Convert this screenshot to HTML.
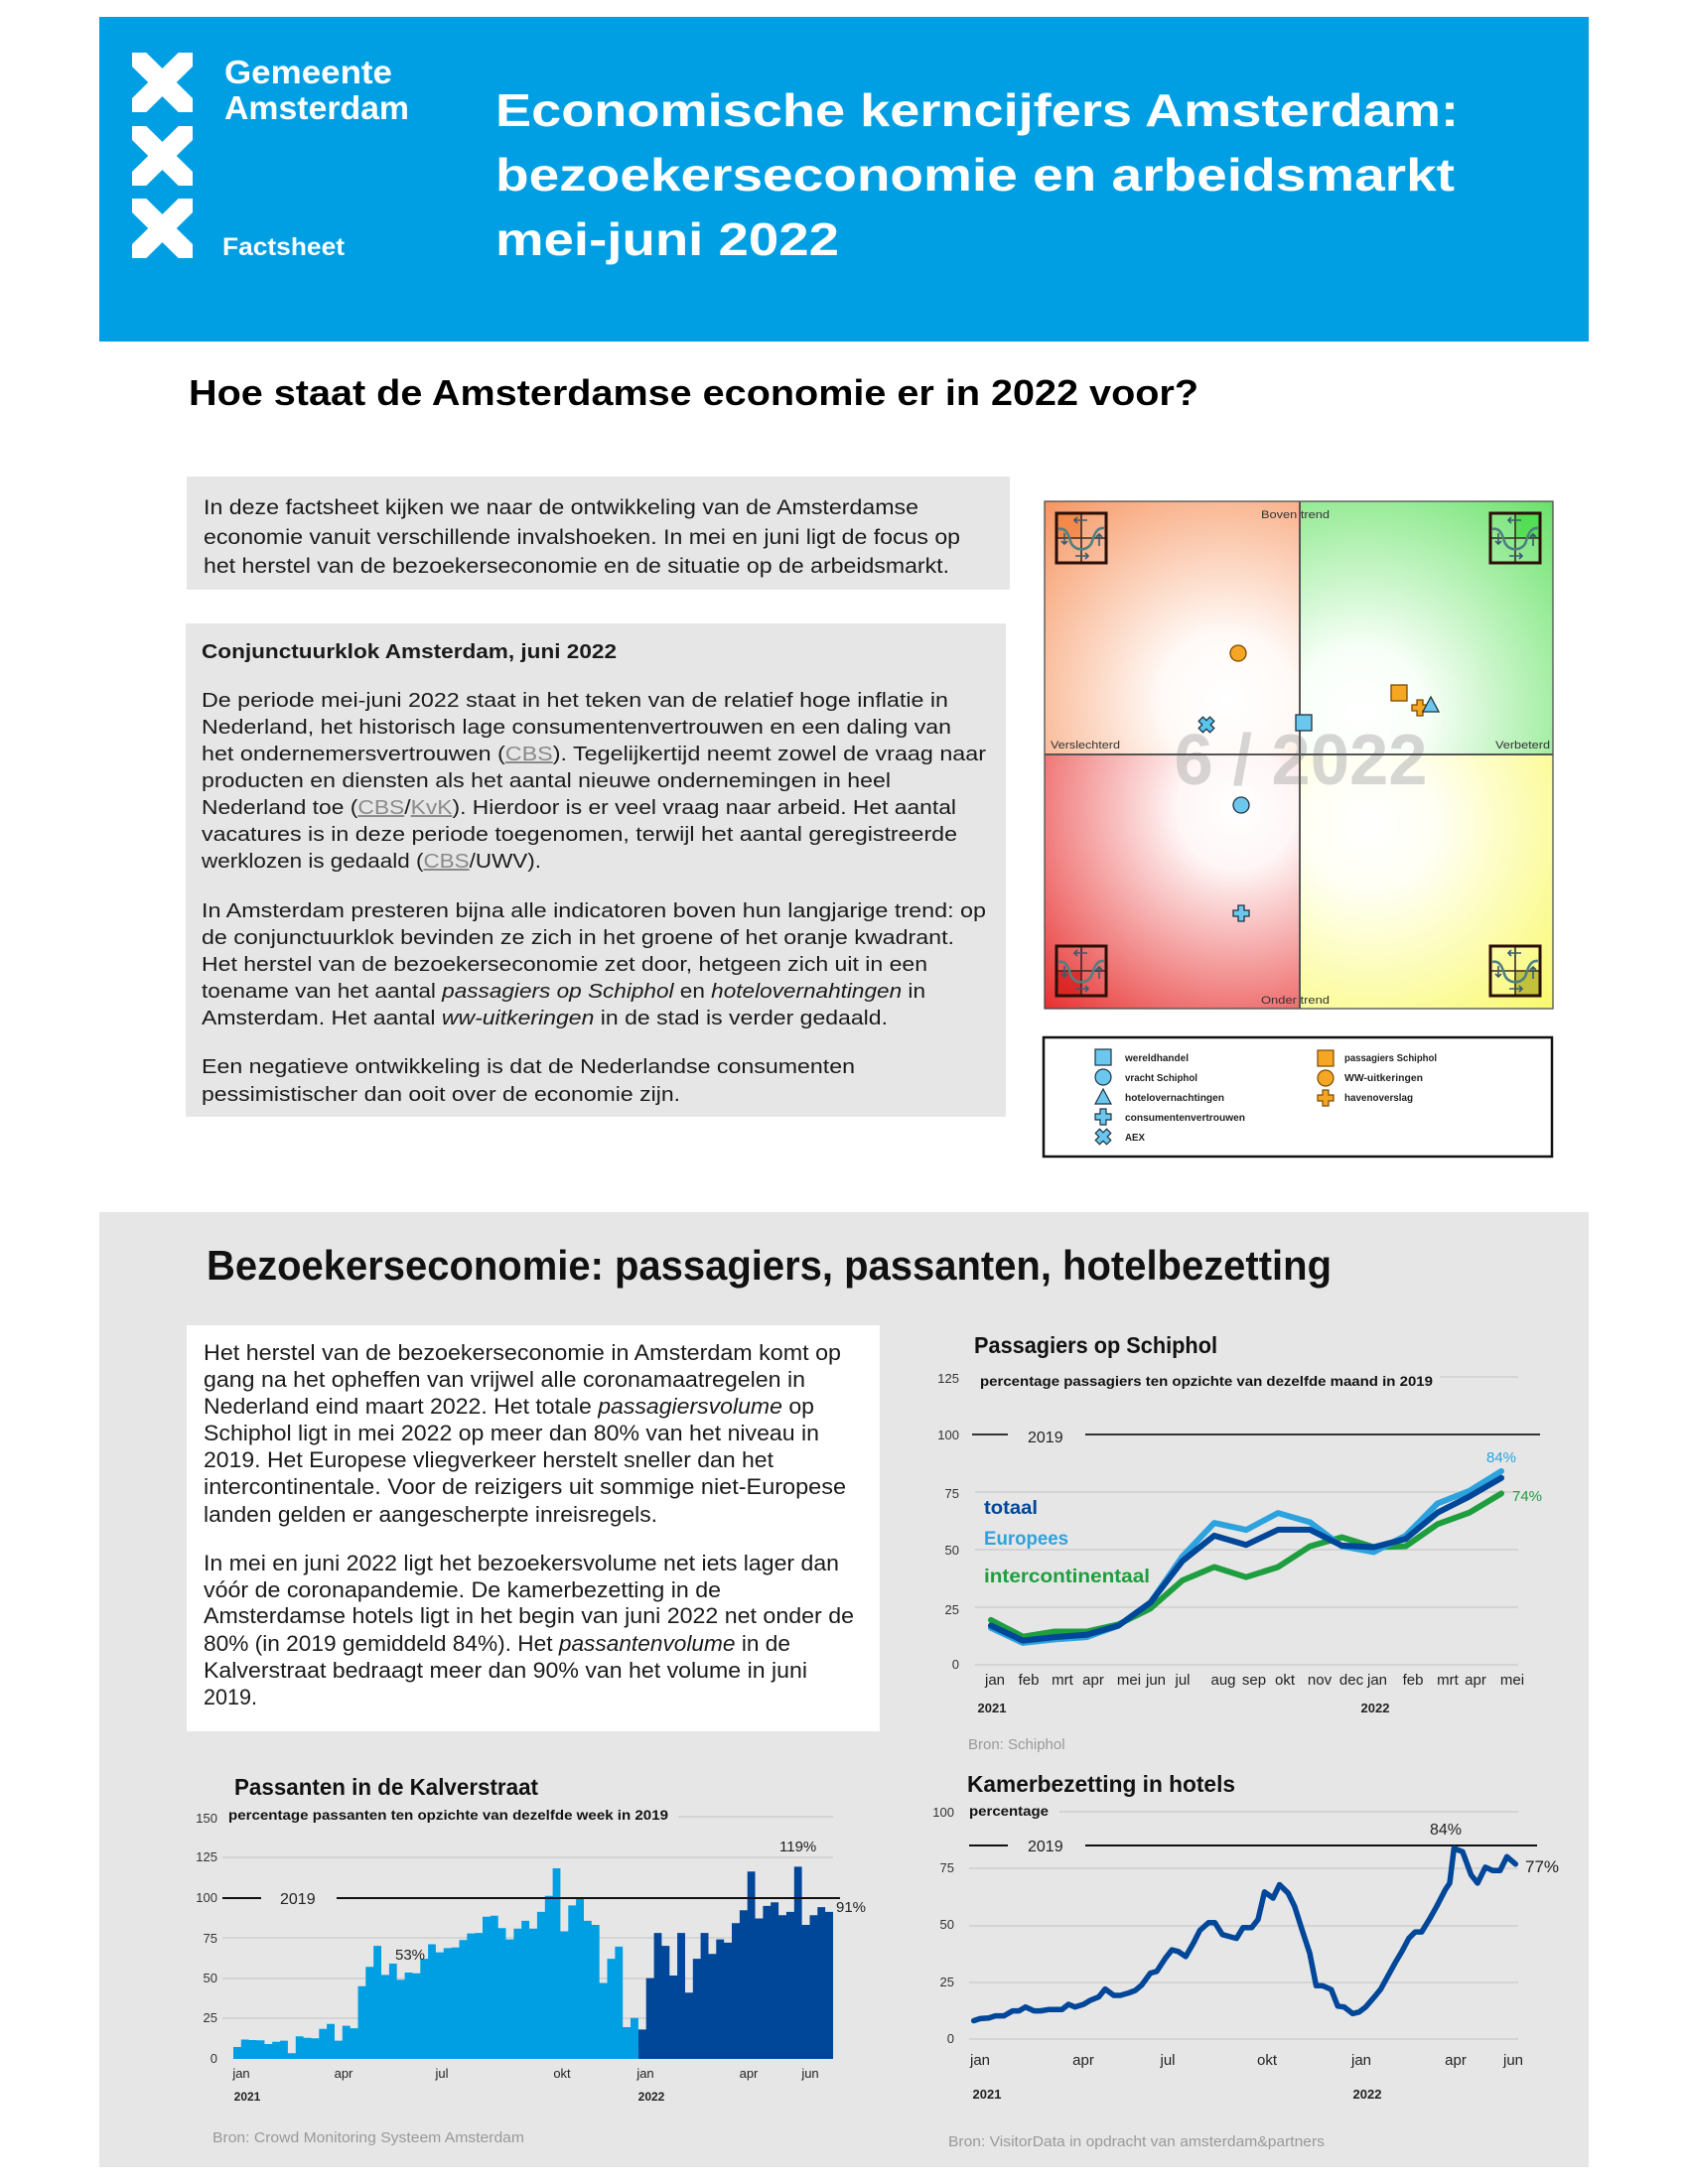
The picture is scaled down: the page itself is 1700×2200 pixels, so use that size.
<!DOCTYPE html>
<html lang="nl">
<head>
<meta charset="utf-8">
<title>Economische kerncijfers Amsterdam</title>
<style>
  html,body{margin:0;padding:0;background:#fff;}
  svg{display:block;}
  text{font-family:"Liberation Sans",Arial,sans-serif;}
</style>
</head>
<body>
<svg width="1700" height="2200" viewBox="0 0 1700 2200" xmlns="http://www.w3.org/2000/svg">
<defs>
  <clipPath id="cx1"><rect x="133" y="53" width="61" height="60"/></clipPath>
  <clipPath id="cx2"><rect x="133" y="127" width="61" height="60"/></clipPath>
  <clipPath id="cx3"><rect x="133" y="200" width="61" height="60"/></clipPath>
  <radialGradient id="gTL" gradientUnits="userSpaceOnUse" cx="1235" cy="705" r="300">
    <stop offset="0" stop-color="#ffffff"/><stop offset="0.22" stop-color="#fffaf7"/><stop offset="1" stop-color="#f5864a"/>
  </radialGradient>
  <radialGradient id="gTR" gradientUnits="userSpaceOnUse" cx="1370" cy="720" r="300">
    <stop offset="0" stop-color="#ffffff"/><stop offset="0.22" stop-color="#f8fff8"/><stop offset="1" stop-color="#62e062"/>
  </radialGradient>
  <radialGradient id="gBL" gradientUnits="userSpaceOnUse" cx="1245" cy="815" r="300">
    <stop offset="0" stop-color="#ffffff"/><stop offset="0.2" stop-color="#fff6f6"/><stop offset="1" stop-color="#e51c1c"/>
  </radialGradient>
  <radialGradient id="gBR" gradientUnits="userSpaceOnUse" cx="1380" cy="830" r="300">
    <stop offset="0" stop-color="#ffffff"/><stop offset="0.22" stop-color="#fffff4"/><stop offset="1" stop-color="#f8f850"/>
  </radialGradient>
  <g id="icon">
    <path d="M25,1 V49 M1,25 H49" stroke="#3a2a22" stroke-width="1.6"/>
    <path d="M2,16 C9,14 12,21 14,28 C17,39 33,39 36,28 C38,21 41,14 48,15" stroke="#4f8080" stroke-width="2.6" fill="none"/>
    <path d="M31,7 H18 M21,4 L18,7 L21,10" stroke="#3a5a70" stroke-width="1.6" fill="none"/>
    <path d="M19,43 H32 M29,40 L32,43 L29,46" stroke="#3a5a70" stroke-width="1.6" fill="none"/>
    <path d="M8,20 V31 M5,28 L8,31 L11,28" stroke="#3a5a70" stroke-width="1.6" fill="none"/>
    <path d="M43,33 V21 M40,24 L43,21 L46,24" stroke="#3a5a70" stroke-width="1.6" fill="none"/>
    <rect x="0" y="0" width="50" height="50" fill="none" stroke="#2b0e05" stroke-width="3"/>
  </g>
  <path id="plus" d="M-3,-8 H3 V-3 H8 V3 H3 V8 H-3 V3 H-8 V-3 H-3 Z"/>
</defs>

<!-- ============ HEADER ============ -->
<rect x="100" y="17" width="1500" height="327" fill="#009fe3"/>
<g stroke="#ffffff" stroke-width="20" stroke-linecap="butt">
  <g clip-path="url(#cx1)"><line x1="125" y1="45" x2="202" y2="121"/><line x1="202" y1="45" x2="125" y2="121"/></g>
  <g clip-path="url(#cx2)"><line x1="125" y1="119" x2="202" y2="195"/><line x1="202" y1="119" x2="125" y2="195"/></g>
  <g clip-path="url(#cx3)"><line x1="125" y1="192" x2="202" y2="268"/><line x1="202" y1="192" x2="125" y2="268"/></g>
</g>
<g fill="#ffffff" font-weight="bold">
  <text x="226" y="84" font-size="33" textLength="169" lengthAdjust="spacingAndGlyphs">Gemeente</text>
  <text x="226" y="120" font-size="33" textLength="186" lengthAdjust="spacingAndGlyphs">Amsterdam</text>
  <text x="224" y="257" font-size="25" textLength="123" lengthAdjust="spacingAndGlyphs">Factsheet</text>
  <text x="499" y="127" font-size="46" textLength="970" lengthAdjust="spacingAndGlyphs">Economische kerncijfers Amsterdam:</text>
  <text x="499" y="192" font-size="46" textLength="966" lengthAdjust="spacingAndGlyphs">bezoekerseconomie en arbeidsmarkt</text>
  <text x="499" y="257" font-size="46" textLength="346" lengthAdjust="spacingAndGlyphs">mei-juni 2022</text>
</g>

<!-- ============ SECTION 1 ============ -->
<text x="190" y="408" font-size="36" font-weight="bold" fill="#000" textLength="1017" lengthAdjust="spacingAndGlyphs">Hoe staat de Amsterdamse economie er in 2022 voor?</text>

<rect x="188" y="480" width="829" height="114" fill="#e6e6e6"/>
<g font-size="21" fill="#1a1a1a">
  <text x="205" y="518" textLength="720" lengthAdjust="spacingAndGlyphs">In deze factsheet kijken we naar de ontwikkeling van de Amsterdamse</text>
  <text x="205" y="548" textLength="762" lengthAdjust="spacingAndGlyphs">economie vanuit verschillende invalshoeken. In mei en juni ligt de focus op</text>
  <text x="205" y="577" textLength="751" lengthAdjust="spacingAndGlyphs">het herstel van de bezoekerseconomie en de situatie op de arbeidsmarkt.</text>
</g>

<rect x="187" y="628" width="826" height="497" fill="#e6e6e6"/>
<g font-size="20" fill="#1a1a1a">
  <text x="203" y="663" font-weight="bold" textLength="418" lengthAdjust="spacingAndGlyphs">Conjunctuurklok Amsterdam, juni 2022</text>
  <text x="203" y="712" textLength="752" lengthAdjust="spacingAndGlyphs">De periode mei-juni 2022 staat in het teken van de relatief hoge inflatie in</text>
  <text x="203" y="739" textLength="755" lengthAdjust="spacingAndGlyphs">Nederland, het historisch lage consumentenvertrouwen en een daling van</text>
  <text x="203" y="766" textLength="790" lengthAdjust="spacingAndGlyphs">het ondernemersvertrouwen (<tspan fill="#8a8a8a" text-decoration="underline">CBS</tspan>). Tegelijkertijd neemt zowel de vraag naar</text>
  <text x="203" y="793" textLength="694" lengthAdjust="spacingAndGlyphs">producten en diensten als het aantal nieuwe ondernemingen in heel</text>
  <text x="203" y="820" textLength="760" lengthAdjust="spacingAndGlyphs">Nederland toe (<tspan fill="#8a8a8a" text-decoration="underline">CBS</tspan>/<tspan fill="#8a8a8a" text-decoration="underline">KvK</tspan>). Hierdoor is er veel vraag naar arbeid. Het aantal</text>
  <text x="203" y="847" textLength="761" lengthAdjust="spacingAndGlyphs">vacatures is in deze periode toegenomen, terwijl het aantal geregistreerde</text>
  <text x="203" y="874" textLength="342" lengthAdjust="spacingAndGlyphs">werklozen is gedaald (<tspan fill="#8a8a8a" text-decoration="underline">CBS</tspan>/UWV).</text>
  <text x="203" y="924" textLength="790" lengthAdjust="spacingAndGlyphs">In Amsterdam presteren bijna alle indicatoren boven hun langjarige trend: op</text>
  <text x="203" y="951" textLength="758" lengthAdjust="spacingAndGlyphs">de conjunctuurklok bevinden ze zich in het groene of het oranje kwadrant.</text>
  <text x="203" y="978" textLength="731" lengthAdjust="spacingAndGlyphs">Het herstel van de bezoekerseconomie zet door, hetgeen zich uit in een</text>
  <text x="203" y="1005" textLength="729" lengthAdjust="spacingAndGlyphs">toename van het aantal <tspan font-style="italic">passagiers op Schiphol</tspan> en <tspan font-style="italic">hotelovernahtingen</tspan> in</text>
  <text x="203" y="1032" textLength="691" lengthAdjust="spacingAndGlyphs">Amsterdam. Het aantal <tspan font-style="italic">ww-uitkeringen</tspan> in de stad is verder gedaald.</text>
  <text x="203" y="1081" textLength="658" lengthAdjust="spacingAndGlyphs">Een negatieve ontwikkeling is dat de Nederlandse consumenten</text>
  <text x="203" y="1109" textLength="482" lengthAdjust="spacingAndGlyphs">pessimistischer dan ooit over de economie zijn.</text>
</g>

<!-- ============ CONJUNCTUURKLOK ============ -->
<rect x="1052" y="505" width="257" height="255" fill="url(#gTL)"/>
<rect x="1309" y="505" width="255" height="255" fill="url(#gTR)"/>
<rect x="1052" y="760" width="257" height="256" fill="url(#gBL)"/>
<rect x="1309" y="760" width="255" height="256" fill="url(#gBR)"/>
<rect x="1052" y="505" width="512" height="511" fill="none" stroke="#444" stroke-width="1.2"/>
<text x="1310" y="790" font-size="72" font-weight="bold" fill="#b4b4b4" fill-opacity="0.55" text-anchor="middle" textLength="255" lengthAdjust="spacingAndGlyphs">6 / 2022</text>
<path d="M1309,505 V1016 M1052,760 H1564" stroke="#555" stroke-width="2"/>
<g font-size="11" fill="#333">
  <text x="1270" y="522" textLength="69" lengthAdjust="spacingAndGlyphs">Boven trend</text>
  <text x="1270" y="1011" textLength="69" lengthAdjust="spacingAndGlyphs">Onder trend</text>
  <text x="1058" y="754" textLength="70" lengthAdjust="spacingAndGlyphs">Verslechterd</text>
  <text x="1506" y="754" textLength="55" lengthAdjust="spacingAndGlyphs">Verbeterd</text>
</g>
<!-- corner icons -->
<g transform="translate(1064,517)"><rect x="0" y="0" width="25" height="25" fill="#f0782e" fill-opacity="0.6"/><use href="#icon"/></g>
<g transform="translate(1501,517)"><rect x="25" y="0" width="25" height="25" fill="#38d838" fill-opacity="0.6"/><use href="#icon"/></g>
<g transform="translate(1064,953)"><rect x="0" y="25" width="25" height="25" fill="#d41010" fill-opacity="0.6"/><use href="#icon"/></g>
<g transform="translate(1501,953)"><rect x="25" y="25" width="25" height="25" fill="#a8a820" fill-opacity="0.7"/><use href="#icon"/></g>
<!-- markers -->
<g stroke="#1e3340" stroke-width="1.3">
  <use href="#plus" transform="translate(1215,730) rotate(45)" fill="#5bc5ee"/>
  <circle cx="1247" cy="658" r="8" fill="#f5a623" stroke="#7a4a00"/>
  <rect x="1305" y="720" width="16" height="16" fill="#6cc7ef"/>
  <rect x="1401" y="690" width="16" height="16" fill="#f5a623" stroke="#7a4a00"/>
  <use href="#plus" transform="translate(1430,713)" fill="#f5a623" stroke="#7a4a00"/>
  <path d="M1441,702 L1449,717 L1433,717 Z" fill="#6cc7ef"/>
  <circle cx="1250" cy="811" r="8" fill="#6cc7ef"/>
  <use href="#plus" transform="translate(1250,920)" fill="#6cc7ef"/>
</g>
<!-- legend -->
<rect x="1051" y="1045" width="512" height="120" fill="#fff" stroke="#111" stroke-width="2.5"/>
<g stroke="#1e3340" stroke-width="1.2">
  <rect x="1103" y="1057" width="16" height="16" fill="#6cc7ef"/>
  <circle cx="1111" cy="1085" r="8" fill="#6cc7ef"/>
  <path d="M1111,1097 L1119,1112 L1103,1112 Z" fill="#6cc7ef"/>
  <use href="#plus" transform="translate(1111,1125)" fill="#6cc7ef"/>
  <use href="#plus" transform="translate(1111,1145) rotate(45)" fill="#6cc7ef"/>
  <rect x="1327" y="1058" width="16" height="16" fill="#f5a623" stroke="#7a4a00"/>
  <circle cx="1335" cy="1086" r="8" fill="#f5a623" stroke="#7a4a00"/>
  <use href="#plus" transform="translate(1335,1106)" fill="#f5a623" stroke="#7a4a00"/>
</g>
<g font-size="10" font-weight="bold" fill="#222">
  <text x="1133" y="1069" textLength="64" lengthAdjust="spacingAndGlyphs">wereldhandel</text>
  <text x="1133" y="1089" textLength="73" lengthAdjust="spacingAndGlyphs">vracht Schiphol</text>
  <text x="1133" y="1109" textLength="100" lengthAdjust="spacingAndGlyphs">hotelovernachtingen</text>
  <text x="1133" y="1129" textLength="121" lengthAdjust="spacingAndGlyphs">consumentenvertrouwen</text>
  <text x="1133" y="1149" textLength="20" lengthAdjust="spacingAndGlyphs">AEX</text>
  <text x="1354" y="1069" textLength="93" lengthAdjust="spacingAndGlyphs">passagiers Schiphol</text>
  <text x="1354" y="1089" textLength="79" lengthAdjust="spacingAndGlyphs">WW-uitkeringen</text>
  <text x="1354" y="1109" textLength="69" lengthAdjust="spacingAndGlyphs">havenoverslag</text>
</g>

<!-- ============ SECTION 2 (grey) ============ -->
<rect x="100" y="1221" width="1500" height="962" fill="#e6e6e6"/>
<text x="208" y="1289" font-size="42" font-weight="bold" fill="#111" textLength="1133" lengthAdjust="spacingAndGlyphs">Bezoekerseconomie: passagiers, passanten, hotelbezetting</text>

<rect x="188" y="1335" width="698" height="409" fill="#ffffff"/>
<g font-size="22" fill="#1a1a1a">
  <text x="205" y="1370" textLength="642" lengthAdjust="spacingAndGlyphs">Het herstel van de bezoekerseconomie in Amsterdam komt op</text>
  <text x="205" y="1397" textLength="606" lengthAdjust="spacingAndGlyphs">gang na het opheffen van vrijwel alle coronamaatregelen in</text>
  <text x="205" y="1424" textLength="615" lengthAdjust="spacingAndGlyphs">Nederland eind maart 2022.  Het totale <tspan font-style="italic">passagiersvolume</tspan> op</text>
  <text x="205" y="1451" textLength="620" lengthAdjust="spacingAndGlyphs">Schiphol ligt in mei 2022 op meer dan 80%  van het niveau in</text>
  <text x="205" y="1478" textLength="574" lengthAdjust="spacingAndGlyphs">2019. Het Europese vliegverkeer herstelt sneller dan het</text>
  <text x="205" y="1505" textLength="647" lengthAdjust="spacingAndGlyphs">intercontinentale. Voor de reizigers uit sommige niet-Europese</text>
  <text x="205" y="1533" textLength="457" lengthAdjust="spacingAndGlyphs">landen gelden er aangescherpte inreisregels.</text>
  <text x="205" y="1582" textLength="640" lengthAdjust="spacingAndGlyphs">In mei en juni 2022 ligt het bezoekersvolume net iets lager dan</text>
  <text x="205" y="1609" textLength="521" lengthAdjust="spacingAndGlyphs">vóór de coronapandemie. De kamerbezetting in de</text>
  <text x="205" y="1635" textLength="655" lengthAdjust="spacingAndGlyphs">Amsterdamse hotels ligt in het begin van juni 2022 net onder de</text>
  <text x="205" y="1663" textLength="591" lengthAdjust="spacingAndGlyphs">80% (in 2019 gemiddeld 84%). Het <tspan font-style="italic">passantenvolume</tspan> in de</text>
  <text x="205" y="1690" textLength="608" lengthAdjust="spacingAndGlyphs">Kalverstraat bedraagt meer dan 90% van het volume in juni</text>
  <text x="205" y="1717" textLength="54" lengthAdjust="spacingAndGlyphs">2019.</text>
</g>

<!-- ============ CHART: Passagiers op Schiphol ============ -->
<text x="981" y="1363" font-size="23" font-weight="bold" fill="#111" textLength="245" lengthAdjust="spacingAndGlyphs">Passagiers op Schiphol</text>
<text x="987" y="1396" font-size="14" font-weight="bold" fill="#111" textLength="456" lengthAdjust="spacingAndGlyphs">percentage passagiers ten opzichte van dezelfde maand in 2019</text>
<g stroke="#d4d4d4" stroke-width="2">
  <line x1="1450" y1="1387" x2="1529" y2="1387"/>
  <line x1="982" y1="1503" x2="1529" y2="1503"/>
  <line x1="982" y1="1561" x2="1529" y2="1561"/>
  <line x1="982" y1="1619" x2="1529" y2="1619"/>
  <line x1="982" y1="1677" x2="1529" y2="1677"/>
</g>
<path d="M979,1445 H1015 M1093,1445 H1551" stroke="#333" stroke-width="2"/>
<text x="1035" y="1453" font-size="16" fill="#222">2019</text>
<g font-size="13" fill="#333" text-anchor="end">
  <text x="966" y="1393">125</text><text x="966" y="1450">100</text><text x="966" y="1509">75</text>
  <text x="966" y="1566">50</text><text x="966" y="1626">25</text><text x="966" y="1681">0</text>
</g>
<g fill="none" stroke-width="6" stroke-linejoin="round" stroke-linecap="round">
  <polyline stroke="#1e9e3e" points="998,1631.9 1030.1,1648.7 1062.3,1643.5 1094.4,1643.5 1126.5,1636.3 1158.6,1620.3 1190.8,1592 1222.9,1578.5 1255,1588.7 1287.1,1578.5 1319.3,1557.6 1351.4,1548.5 1383.5,1558.5 1415.6,1557.6 1447.8,1535.3 1479.9,1523.7 1512,1504.4"/>
  <polyline stroke="#2ca3de" points="998,1639.8 1030.1,1654.9 1062.3,1651.4 1094.4,1649.1 1126.5,1637.5 1158.6,1614.3 1190.8,1567.8 1222.9,1534.1 1255,1541.1 1287.1,1524.1 1319.3,1533.4 1351.4,1557.6 1383.5,1563.4 1415.6,1546.9 1447.8,1514.4 1479.9,1501.8 1512,1481.9"/>
  <polyline stroke="#004699" points="998,1637.5 1030.1,1652.6 1062.3,1649.1 1094.4,1646.8 1126.5,1637.5 1158.6,1614.3 1190.8,1572.5 1222.9,1546.9 1255,1556.2 1287.1,1540.9 1319.3,1540.9 1351.4,1556.9 1383.5,1558.5 1415.6,1550.2 1447.8,1523.7 1479.9,1507.4 1512,1488.8"/>
</g>
<g font-size="19" font-weight="bold">
  <text x="991" y="1525" fill="#004699" textLength="54" lengthAdjust="spacingAndGlyphs">totaal</text>
  <text x="991" y="1556" fill="#2ca3de" textLength="85" lengthAdjust="spacingAndGlyphs">Europees</text>
  <text x="991" y="1594" fill="#1e9e3e" textLength="167" lengthAdjust="spacingAndGlyphs">intercontinentaal</text>
</g>
<text x="1497" y="1473" font-size="15" fill="#2ca3de">84%</text>
<text x="1523" y="1512" font-size="15" fill="#1e9e3e">74%</text>
<g font-size="15" fill="#222" text-anchor="middle">
  <text x="1002" y="1697">jan</text><text x="1036" y="1697">feb</text><text x="1070" y="1697">mrt</text>
  <text x="1101" y="1697">apr</text><text x="1137" y="1697">mei</text><text x="1164" y="1697">jun</text>
  <text x="1191" y="1697">jul</text><text x="1232" y="1697">aug</text><text x="1263" y="1697">sep</text>
  <text x="1294" y="1697">okt</text><text x="1329" y="1697">nov</text><text x="1361" y="1697">dec</text>
  <text x="1387" y="1697">jan</text><text x="1423" y="1697">feb</text><text x="1458" y="1697">mrt</text>
  <text x="1486" y="1697">apr</text><text x="1523" y="1697">mei</text>
</g>
<g font-size="13" font-weight="bold" fill="#222" text-anchor="middle">
  <text x="999" y="1725">2021</text><text x="1385" y="1725">2022</text>
</g>
<text x="975" y="1762" font-size="15" fill="#999">Bron: Schiphol</text>

<!-- ============ CHART: Passanten in de Kalverstraat ============ -->
<text x="236" y="1808" font-size="23" font-weight="bold" fill="#111" textLength="306" lengthAdjust="spacingAndGlyphs">Passanten in de Kalverstraat</text>
<text x="230" y="1833" font-size="14" font-weight="bold" fill="#111" textLength="443" lengthAdjust="spacingAndGlyphs">percentage passanten ten opzichte van dezelfde week in 2019</text>
<g stroke="#d4d4d4" stroke-width="2">
  <line x1="683" y1="1830" x2="839" y2="1830"/>
  <line x1="224" y1="1871" x2="839" y2="1871"/>
  <line x1="224" y1="1952" x2="839" y2="1952"/>
  <line x1="224" y1="1993" x2="839" y2="1993"/>
  <line x1="224" y1="2033" x2="839" y2="2033"/>
</g>
<g font-size="13" fill="#333" text-anchor="end">
  <text x="219" y="1836">150</text><text x="219" y="1875">125</text><text x="219" y="1916">100</text>
  <text x="219" y="1957">75</text><text x="219" y="1997">50</text><text x="219" y="2037">25</text><text x="219" y="2078">0</text>
</g>
<path fill="#009fe3" d="M235,2074 V2062.0 H242.8 V2054.5 H250.7 V2055.0 H258.5 V2055.3 H266.4 V2059.0 H274.2 V2056.8 H282.1 V2055.6 H289.9 V2068.3 H297.8 V2051.2 H305.6 V2052.8 H313.4 V2053.3 H321.3 V2043.7 H329.1 V2038.7 H337.0 V2055.6 H344.8 V2040.6 H352.7 V2043.1 H360.5 V2000.8 H368.3 V1981.3 H376.2 V1960.1 H384.0 V1989.4 H391.9 V1978.0 H399.7 V1994.3 H407.6 V1987.0 H415.4 V1987.8 H423.3 V1973.1 H431.1 V1958.5 H438.9 V1966.6 H446.8 V1962.4 H454.6 V1961.7 H462.5 V1954.3 H470.3 V1947.6 H478.2 V1947.1 H486.0 V1930.8 H493.9 V1929.7 H501.7 V1942.2 H509.5 V1953.6 H517.4 V1942.7 H525.2 V1934.9 H533.1 V1942.7 H540.9 V1925.9 H548.8 V1909.7 H556.6 V1882.0 H564.4 V1945.5 H572.3 V1919.4 H580.1 V1912.9 H588.0 V1934.9 H595.8 V1939.0 H603.7 V1997.5 H611.5 V1973.1 H619.4 V1960.9 H627.2 V2042.0 H635.0 V2032.7 H642.9 V2074 Z"/>
<path fill="#004699" d="M642.9,2074 V2044.4 H650.7 V1992.6 H658.6 V1947.1 H666.4 V1960.1 H674.3 V1990.0 H682.1 V1947.1 H690.0 V2007.3 H697.8 V1973.1 H705.6 V1947.1 H713.5 V1968.2 H721.3 V1953.6 H729.2 V1956.9 H737.0 V1937.3 H744.9 V1924.3 H752.7 V1885.3 H760.5 V1932.5 H768.4 V1919.9 H776.2 V1916.2 H784.1 V1929.2 H791.9 V1925.9 H799.8 V1880.4 H807.6 V1939.0 H815.5 V1929.2 H823.3 V1921.1 H831.1 V1925.9 H839.0 V2074 Z"/>
<path d="M224,1912 H263 M339,1912 H846" stroke="#111" stroke-width="2"/>
<text x="282" y="1918" font-size="16" fill="#222">2019</text>
<text x="398" y="1974" font-size="15" fill="#222">53%</text>
<text x="785" y="1865" font-size="15" fill="#222">119%</text>
<text x="842" y="1926" font-size="15" fill="#222">91%</text>
<g font-size="13" fill="#222" text-anchor="middle">
  <text x="243" y="2093">jan</text><text x="346" y="2093">apr</text><text x="445" y="2093">jul</text>
  <text x="566" y="2093">okt</text><text x="650" y="2093">jan</text><text x="754" y="2093">apr</text><text x="816" y="2093">jun</text>
</g>
<g font-size="12" font-weight="bold" fill="#222" text-anchor="middle">
  <text x="249" y="2116">2021</text><text x="656" y="2116">2022</text>
</g>
<text x="214" y="2158" font-size="15" fill="#999" textLength="314" lengthAdjust="spacingAndGlyphs">Bron: Crowd Monitoring Systeem Amsterdam</text>

<!-- ============ CHART: Kamerbezetting in hotels ============ -->
<text x="974" y="1805" font-size="23" font-weight="bold" fill="#111" textLength="270" lengthAdjust="spacingAndGlyphs">Kamerbezetting in hotels</text>
<text x="976" y="1829" font-size="14" font-weight="bold" fill="#111" textLength="80" lengthAdjust="spacingAndGlyphs">percentage</text>
<g stroke="#d4d4d4" stroke-width="2">
  <line x1="1067" y1="1825" x2="1529" y2="1825"/>
  <line x1="976" y1="1882" x2="1529" y2="1882"/>
  <line x1="976" y1="1940" x2="1529" y2="1940"/>
  <line x1="976" y1="1997" x2="1529" y2="1997"/>
  <line x1="976" y1="2054" x2="1529" y2="2054"/>
</g>
<path d="M976,1859 H1015 M1093,1859 H1548" stroke="#111" stroke-width="2"/>
<text x="1035" y="1865" font-size="16" fill="#222">2019</text>
<g font-size="13" fill="#333" text-anchor="end">
  <text x="961" y="1830">100</text><text x="961" y="1886">75</text><text x="961" y="1943">50</text>
  <text x="961" y="2001">25</text><text x="961" y="2058">0</text>
</g>
<polyline fill="none" stroke="#004699" stroke-width="5.5" stroke-linejoin="round" stroke-linecap="round" points="980.7,2035.5 987.2,2033.4 995.9,2032.7 1002.4,2030.6 1011.1,2030.6 1019.8,2025.6 1026.3,2025.6 1032.8,2021.7 1041.4,2025.6 1047.9,2025.6 1056.6,2024.2 1069.6,2024.2 1076.1,2019 1082.6,2021.7 1091.3,2019 1097.8,2015.1 1106.5,2011.6 1113,2003.6 1121.7,2010 1128.2,2010 1136.9,2007.5 1143.4,2005 1149.9,1999.5 1158.5,1987.6 1165,1985.8 1173.7,1972.5 1180.2,1964.2 1186.7,1965.8 1194.1,1970.9 1201.9,1957.4 1208.4,1944.5 1217.1,1936.8 1223.6,1936.8 1231,1948.7 1238.8,1950.9 1245.3,1952.6 1251.8,1941.8 1260.5,1941.8 1267,1933.5 1273.5,1905.8 1282.1,1912 1288.6,1898.5 1297.3,1907 1303.8,1920.3 1312.5,1947.7 1319,1967.4 1325.5,2000.2 1332,2000.2 1340.7,2004.1 1347.2,2020.8 1353.7,2021.7 1362.4,2028.4 1368.9,2026.7 1375.4,2021.7 1384.1,2011.6 1390.6,2003.6 1397.1,1991.7 1405.7,1976.1 1412.2,1965.1 1418.8,1952.6 1425.3,1946.1 1431.8,1946.1 1440.4,1931.9 1446.9,1920.3 1455.6,1903.5 1460,1896.9 1464.3,1861.9 1473,1865.3 1481.6,1888.7 1488.1,1896.9 1495.9,1880.9 1503.3,1884.3 1510.7,1884.3 1517.6,1870.3 1526.3,1877.7"/>
<text x="1440" y="1848" font-size="16" fill="#222">84%</text>
<text x="1536" y="1886" font-size="17" fill="#222">77%</text>
<g font-size="15" fill="#222" text-anchor="middle">
  <text x="987" y="2080">jan</text><text x="1091" y="2080">apr</text><text x="1176" y="2080">jul</text>
  <text x="1276" y="2080">okt</text><text x="1371" y="2080">jan</text><text x="1466" y="2080">apr</text><text x="1524" y="2080">jun</text>
</g>
<g font-size="13" font-weight="bold" fill="#222" text-anchor="middle">
  <text x="994" y="2114">2021</text><text x="1377" y="2114">2022</text>
</g>
<text x="955" y="2162" font-size="15" fill="#999" textLength="379" lengthAdjust="spacingAndGlyphs">Bron: VisitorData in opdracht van amsterdam&amp;partners</text>
</svg>
</body>
</html>
